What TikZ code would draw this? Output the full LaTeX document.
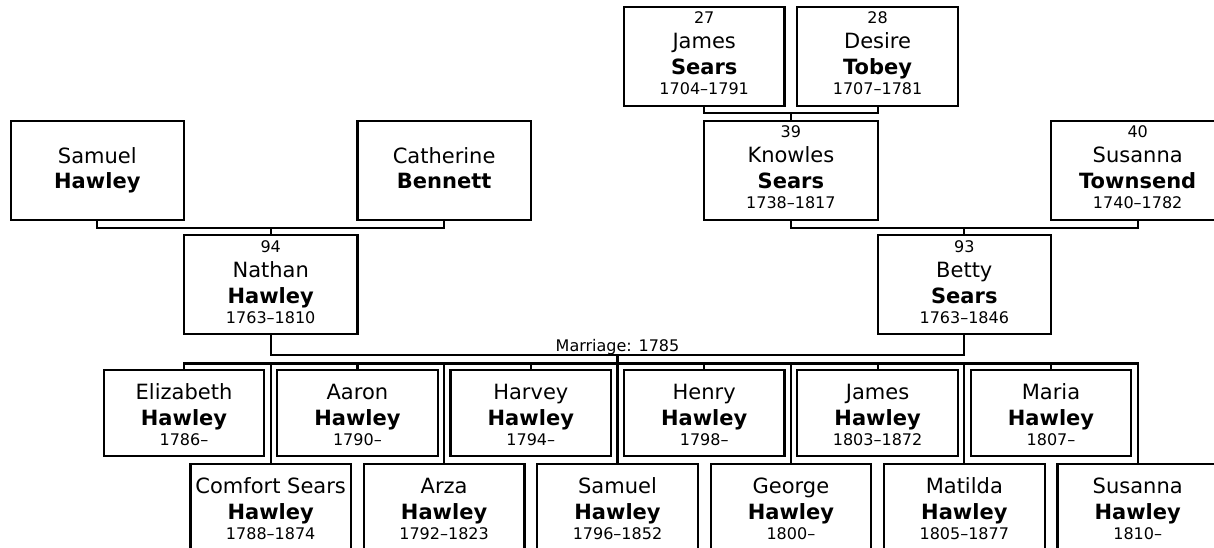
\documentclass[tikz,border=0pt]{standalone}
\usepackage{fontspec}
\setmainfont{DejaVu Sans}
\tikzset{
  pbox/.style={draw, line width=2.2pt, minimum width=160.6pt, minimum height=99.3pt, inner sep=0pt, outer sep=0pt},
  wbox/.style={pbox, minimum width=173.4pt},
  cbox/.style={pbox, minimum height=86pt},
  conn/.style={line width=2.2pt},
  nm/.style={anchor=base, inner sep=0pt, font=\fontsize{21}{25}\selectfont},
  sn/.style={anchor=base, inner sep=0pt, font=\fontsize{21}{25}\selectfont\bfseries},
  sm/.style={anchor=base, inner sep=0pt, font=\fontsize{16}{19}\selectfont},
}
% person with number, first name, surname, dates
\newcommand\personA[5]{%
  \node[sm] (#1-num) at ([yshift=-17pt]#1.north) {#2};
  \node[nm] (#1-fn) at ([yshift=-42.3pt]#1.north) {#3};
  \node[sn] (#1-sn) at ([yshift=-68pt]#1.north) {#4};
  \node[sm] (#1-dt) at ([yshift=-88pt]#1.north) {#5};
}
% person with first name and surname only
\newcommand\personB[3]{%
  \node[nm] (#1-fn) at ([yshift=-43pt]#1.north) {#2};
  \node[sn] (#1-sn) at ([yshift=-68.3pt]#1.north) {#3};
}
% child
\newcommand\kidbox[4]{%
  \node[nm] (#1-fn) at ([yshift=-29.3pt]#1.north) {#2};
  \node[sn] (#1-sn) at ([yshift=-55pt]#1.north) {#3};
  \node[sm] (#1-dt) at ([yshift=-75.5pt]#1.north) {#4};
}
\begin{document}
\begin{tikzpicture}[x=1pt,y=-1pt]
\clip (0,0) rectangle (1214,548);
\useasboundingbox (0,0) rectangle (1214,548);

% great-grandparents
\node[pbox] (js) at (704.2,56.35) {};
\node[pbox] (dt) at (877.6,56.35) {};
\personA{js}{27}{James}{Sears}{1704–1791}
\personA{dt}{28}{Desire}{Tobey}{1707–1781}

% grandparents
\node[wbox] (sh) at (97.3,170.35) {};
\node[wbox] (cb) at (444.1,170.35) {};
\node[wbox] (ks) at (790.9,170.35) {};
\node[wbox] (st) at (1137.7,170.35) {};
\personB{sh}{Samuel}{Hawley}
\personB{cb}{Catherine}{Bennett}
\personA{ks}{39}{Knowles}{Sears}{1738–1817}
\personA{st}{40}{Susanna}{Townsend}{1740–1782}

% parents
\node[wbox, minimum height=99pt] (nh) at (270.7,284.5) {};
\node[wbox, minimum height=99pt] (bs) at (964.3,284.5) {};
\personA{nh}{94}{Nathan}{Hawley}{1763–1810}
\personA{bs}{93}{Betty}{Sears}{1763–1846}

% children, upper row
\node[cbox] (eh) at (184.0,413) {};
\node[cbox] (ah) at (357.4,413) {};
\node[cbox] (hv) at (530.8,413) {};
\node[cbox] (hn) at (704.2,413) {};
\node[cbox] (jh) at (877.6,413) {};
\node[cbox] (mh) at (1051.0,413) {};
\kidbox{eh}{Elizabeth}{Hawley}{1786–}
\kidbox{ah}{Aaron}{Hawley}{1790–}
\kidbox{hv}{Harvey}{Hawley}{1794–}
\kidbox{hn}{Henry}{Hawley}{1798–}
\kidbox{jh}{James}{Hawley}{1803–1872}
\kidbox{mh}{Maria}{Hawley}{1807–}

% children, lower row
\node[cbox] (ch) at (270.7,507) {};
\node[cbox] (az) at (444.1,507) {};
\node[cbox] (sa) at (617.5,507) {};
\node[cbox] (gh) at (790.9,507) {};
\node[cbox] (mt) at (964.3,507) {};
\node[cbox] (su) at (1137.7,507) {};
\kidbox{ch}{Comfort Sears}{Hawley}{1788–1874}
\kidbox{az}{Arza}{Hawley}{1792–1823}
\kidbox{sa}{Samuel}{Hawley}{1796–1852}
\kidbox{gh}{George}{Hawley}{1800–}
\kidbox{mt}{Matilda}{Hawley}{1805–1877}
\kidbox{su}{Susanna}{Hawley}{1810–}

% connectors between generations
\coordinate (m3) at (790.9,112.7);
\draw[conn] (js.south) |- (m3) -| (dt.south);
\draw[conn] (m3) -- (ks.north);

\coordinate (m2a) at (270.7,227.6);
\draw[conn] (sh.south) |- (m2a) -| (cb.south);
\draw[conn] (m2a) -- (nh.north);

\coordinate (m2b) at (964.3,227.6);
\draw[conn] (ks.south) |- (m2b) -| (st.south);
\draw[conn] (m2b) -- (bs.north);

% marriage
\coordinate (mar) at (617.5,355);
\draw[conn] (nh.south) |- (mar) -| (bs.south);
\node[sm] (marlbl) at (617.5,351) {Marriage: 1785};
\draw[conn] (mar) -- (sa.north);

% sibling line
\coordinate (sib) at (617.5,363.5);
\draw[conn] (eh.north) -- (eh.north |- sib) -| (su.north);
\foreach \k in {ah,hv,hn,jh,mh,ch,az,gh,mt}{
  \draw[conn] (\k.north) -- (\k.north |- sib);
}
\end{tikzpicture}
\end{document}
